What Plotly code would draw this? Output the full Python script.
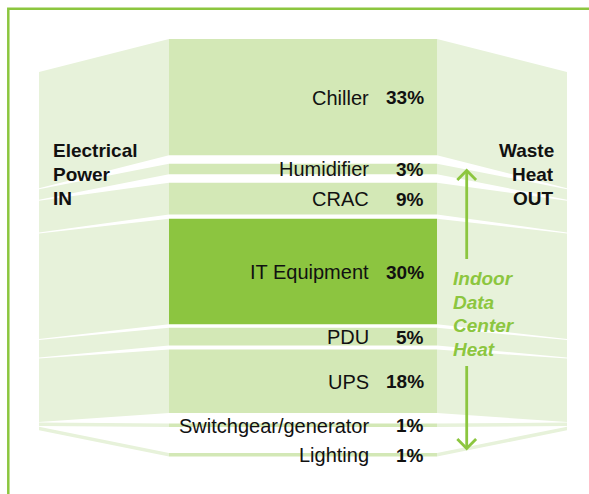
import plotly.graph_objects as go

# ---------------- data ----------------
categories = ["Chiller", "Humidifier", "CRAC", "IT Equipment", "PDU", "UPS",
              "Switchgear/generator", "Lighting"]
shares = [33, 3, 9, 30, 5, 18, 1, 1]          # percent of electrical power
highlight = ["IT Equipment"]
left_lines = ["Electrical", "Power", "IN"]
right_lines = ["Waste", "Heat", "OUT"]
inner_lines = ["Indoor", "Data", "Center", "Heat"]

# ---------------- layout constants ----------------
W, H = 589, 494
PX = 3.52                      # pixels per percent
COL_X0, COL_X1 = 169, 437      # central column
EDGE_L, EDGE_R = 39, 567       # outer edges of side panels
COL_TOP, EDGE_TOP = 39, 72
col_gaps = [8.5, 8.5, 4.3, 3.5, 4.2, 10.5, 26]
edge_gaps = [1.0, 1.0, 1.0, 1.0, 1.0, 0.6, 0.6]

C_COL = "#d3e8b6"
C_SIDE = "#e7f2da"
C_HI = "#8cc540"
C_LINE = "#8cc63f"
FONT = "Liberation Sans, Arial, sans-serif"

# cumulative positions
col_pos, edge_pos = [], []
yc, ye = COL_TOP, EDGE_TOP
for i, v in enumerate(shares):
    h = v * PX
    col_pos.append((yc, yc + h))
    edge_pos.append((ye, ye + h))
    yc += h
    ye += h
    if i < len(col_gaps):
        yc += col_gaps[i]
        ye += edge_gaps[i]

fig = go.Figure()

def poly(xs, ys, color):
    fig.add_trace(go.Scatter(x=xs + [xs[0]], y=ys + [ys[0]], mode="lines",
                             fill="toself", fillcolor=color,
                             line=dict(width=0, color=color),
                             hoverinfo="skip", showlegend=False))

for cat, (ct, cb), (et, eb) in zip(categories, col_pos, edge_pos):
    # left panel
    poly([EDGE_L, COL_X0, COL_X0, EDGE_L], [et, ct, cb, eb], C_SIDE)
    # right panel
    poly([COL_X1, EDGE_R, EDGE_R, COL_X1], [ct, et, eb, cb], C_SIDE)
    # column
    poly([COL_X0, COL_X1, COL_X1, COL_X0], [ct, ct, cb, cb],
         C_HI if cat in highlight else C_COL)

annotations = []
for cat, v, (ct, cb) in zip(categories, shares, col_pos):
    ym = (ct + cb) / 2 + 0.5
    annotations.append(dict(x=371, y=ym, text=cat, xanchor="right", yanchor="middle",
                            showarrow=False, font=dict(family=FONT, size=20, color="#111")))
    annotations.append(dict(x=426, y=ym, text=f"<b>{v}%</b>", xanchor="right",
                            yanchor="middle", showarrow=False,
                            font=dict(family=FONT, size=19, color="#111")))

for i, t in enumerate(left_lines):
    annotations.append(dict(x=51, y=150 + 24 * i, text=f"<b>{t}</b>", xanchor="left",
                            yanchor="middle", showarrow=False,
                            font=dict(family=FONT, size=19, color="#111")))
for i, t in enumerate(right_lines):
    annotations.append(dict(x=556, y=150 + 24 * i, text=f"<b>{t}</b>", xanchor="right",
                            yanchor="middle", showarrow=False,
                            font=dict(family=FONT, size=19, color="#111")))
for i, t in enumerate(inner_lines):
    annotations.append(dict(x=451, y=278.5 + 23.7 * i, text=f"<b><i>{t}</i></b>",
                            xanchor="left", yanchor="middle", showarrow=False,
                            font=dict(family=FONT, size=19, color=C_LINE)))

shapes = [
    # frame
    dict(type="path", path=f"M 8.3 {H + 10} L 8.3 8.7 L {W + 10} 8.7",
         line=dict(color=C_LINE, width=2.5), xref="x", yref="y"),
    # up arrow
    dict(type="line", x0=466.7, x1=466.7, y0=171, y1=259,
         line=dict(color=C_LINE, width=2.8), xref="x", yref="y"),
    dict(type="path", path="M 457.3 180 L 466.7 170.5 L 476.1 180",
         line=dict(color=C_LINE, width=2.8), xref="x", yref="y"),
    # down arrow
    dict(type="line", x0=466.7, x1=466.7, y0=366, y1=448,
         line=dict(color=C_LINE, width=2.8), xref="x", yref="y"),
    dict(type="path", path="M 457.3 439 L 466.7 448.5 L 476.1 439",
         line=dict(color=C_LINE, width=2.8), xref="x", yref="y"),
]

fig.update_layout(
    width=W, height=H,
    margin=dict(l=0, r=0, t=0, b=0),
    paper_bgcolor="white", plot_bgcolor="white",
    xaxis=dict(range=[0, W], visible=False, fixedrange=True),
    yaxis=dict(range=[H, 0], visible=False, fixedrange=True),
    annotations=annotations, shapes=shapes, showlegend=False,
)
fig.write_html("out.html", config={"displayModeBar": False},
               post_script="document.body.style.margin='0';document.body.style.overflow='hidden';")
